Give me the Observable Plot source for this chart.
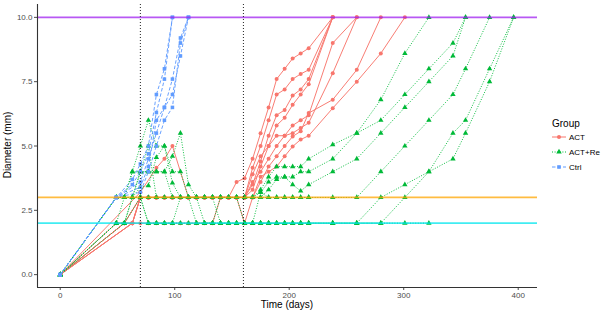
<!DOCTYPE html>
<html><head><meta charset="utf-8">
<script src="https://cdn.jsdelivr.net/npm/d3@7"></script>
<script src="https://cdn.jsdelivr.net/npm/@observablehq/plot@0.6"></script>
<style>body{margin:0;background:#fff;font-family:"Liberation Sans",Arial,sans-serif}</style>
</head><body><div id="chart"></div>
<script>
const groups = ["ACT", "ACT+Re", "Ctrl"];
const groupColors = ["#F8766D", "#00BA38", "#619CFF"];
const groupSymbols = ["circle", "triangle", "square"];
const xTicks = [0, 100, 200, 300, 400];
const yTicks = [0, 2.5, 5, 7.5, 10];
const refLevels = [10, 3, 2];
const refColors = ["#a020f0", "#ffa500", "#00e5ee"];
const phaseDays = [70, 160];

// Ctrl subjects [day, diameter]
const ctrl1 = [[0,0],[49,3],[63,3.7],[70,4.3],[77,5.0],[84,7.0],[91,8.0],[98,10]];
const ctrl2 = [[0,0],[49,3],[63,3.5],[70,4.0],[77,4.7],[84,6.3],[91,7.6],[98,10]];
const ctrl3 = [[0,0],[49,3],[70,3.6],[77,4.5],[84,5.5],[91,6.5],[98,7.6],[105,9.2],[112,10]];
const ctrl4 = [[0,0],[49,3],[70,3.4],[77,4.2],[84,6.0],[91,6.5],[98,7.0],[105,8.5],[112,10]];
const ctrl5 = [[0,0],[49,3],[70,3.2],[77,4.0],[84,5.0],[91,6.0],[98,6.5],[105,9.0],[112,10]];

// ACT subjects
const act1 = [[0,0],[70,3.2],[84,4.15],[91,4.5],[98,5.0],[112,3],[119,3],[126,3],[133,3],[140,3],[147,3],[154,3.6],[161,3.75],[168,4.5],[175,5.5],[182,6.5],[189,7.6],[196,8.0],[203,8.4],[210,8.6],[217,8.8],[238,10]];
const act2 = [[0,0],[56,2],[70,3],[77,3],[84,3],[91,3],[98,3],[105,3],[112,3],[119,3],[126,3],[133,3],[140,3],[147,3],[154,3],[161,3],[168,4.15],[175,5.0],[182,6.0],[189,7.0],[196,7.2],[203,7.6],[210,7.8],[217,7.96],[238,10]];
const act3 = [[0,0],[63,2],[70,3],[77,3],[84,3],[91,3],[98,3],[105,3],[112,3],[119,3],[126,3],[133,3],[140,3],[147,3],[154,3],[161,3],[168,3.5],[175,4.4],[182,5.4],[189,6.2],[196,6.4],[203,6.96],[210,7.2],[217,7.6],[238,10]];
const act4 = [[0,0],[63,2],[70,2],[77,2],[84,2],[91,2],[98,2],[105,2],[112,2],[119,2],[126,2],[133,2],[140,3],[147,3],[154,3],[161,3],[168,3.9],[175,4.6],[182,5.0],[189,5.8],[196,6.1],[203,6.6],[210,7.0],[217,7.4],[238,10]];
const act5 = [[0,0],[56,2],[63,2],[70,3],[77,3],[84,3],[91,3],[98,3],[105,3],[112,3],[119,3],[126,3],[133,3],[140,3],[147,3],[154,3],[161,3],[168,3.3],[175,4.2],[182,5.0],[189,5.4],[196,5.4],[203,5.8],[210,6.0],[217,6.2],[238,9.0],[259,10]];
const act6 = [[0,0],[49,2],[56,2],[63,2],[70,3],[77,3],[84,3],[91,3],[98,3],[105,3],[112,3],[119,3],[126,3],[133,3],[140,3],[147,3],[154,3],[161,3],[168,3.6],[175,4.0],[182,4.5],[189,5.0],[196,5.4],[203,5.5],[210,5.7],[217,5.9],[238,7.83],[259,10]];
const act7 = [[0,0],[63,2],[70,3],[77,3],[84,3],[91,3],[98,3],[105,3],[112,3],[119,3],[126,3],[133,3],[140,3],[147,3],[154,3],[161,3],[168,3],[175,3.6],[182,4.2],[189,4.6],[196,5.0],[203,5.37],[210,5.57],[217,6.28],[238,6.8],[259,7.96],[280,10]];
const act8 = [[0,0],[56,2],[70,3],[77,3],[84,3],[91,3],[98,3],[105,3],[112,3],[119,3],[126,3],[133,3],[140,3],[147,3],[154,3],[161,2],[168,3],[175,3.8],[182,4.0],[189,4.2],[196,4.6],[203,4.98],[210,5.25],[217,5.4],[238,6.47],[259,7.5],[280,8.6],[301,10]];

// ACT+Re subjects
const re1 = [[0,0],[49,3],[56,3],[63,4],[70,4],[77,4],[84,4],[91,4],[98,4.6],[105,5.5],[112,3.5],[119,3],[126,3],[133,3],[140,3],[147,3],[154,3],[161,3],[168,3],[175,3.3],[182,3.8],[189,4.2],[196,4.2],[203,4.2],[210,4.2],[217,4.5],[238,5.05],[259,5.5],[280,6.8],[301,8.6],[322,10]];
const re2 = [[0,0],[49,3],[56,3],[63,4],[70,5],[77,6],[84,5],[91,5],[98,3.56],[105,3],[112,3],[119,3],[126,3],[133,3],[140,3],[147,3],[154,3],[161,3],[168,3],[175,3.2],[182,3.6],[189,3.8],[196,3.8],[203,3.8],[210,4.0],[217,4.0],[238,4.5],[259,5.5],[280,6.0],[301,7.0],[322,8.0],[343,9.0],[354,10]];
const re3 = [[0,0],[49,3],[56,3],[63,3],[70,3.4],[77,3.46],[84,4.56],[91,5.0],[98,4.0],[105,4.0],[112,3],[119,3],[126,3],[133,3],[140,3],[147,3],[154,3],[161,3],[168,3],[175,3],[182,3.3],[189,3.7],[196,3.8],[203,3.5],[210,3.25],[217,3.5],[238,4.0],[259,4.5],[280,5.5],[301,6.5],[322,7.5],[343,8.5],[354,10]];
const re4 = [[0,0],[49,3],[56,3],[63,3],[70,3],[77,3],[84,3],[91,3],[98,3],[105,3],[112,3],[119,3],[126,3],[133,3],[140,3],[147,3],[154,3],[161,3],[168,3],[175,3],[182,3],[189,3],[196,3],[203,3],[210,3],[217,3],[238,3],[259,3],[280,4.0],[301,5.0],[322,6.0],[343,7.0],[354,8.0],[375,10]];
const re5 = [[0,0],[49,2],[56,2],[63,3],[70,4],[77,4],[84,4],[91,4],[98,3],[105,3],[112,3],[119,2],[126,2],[133,2],[140,2],[147,2],[154,2],[161,2],[168,2],[175,2],[182,2],[189,2],[196,2],[203,2],[210,2],[217,2],[238,2],[259,2],[280,3],[301,3.5],[322,4.0],[343,4.5],[354,5.5],[375,7.5],[396,10]];
const re6 = [[0,0],[56,2],[63,3],[70,4],[77,5],[84,3],[91,3],[98,3],[105,3],[112,3],[119,3],[126,3],[133,3],[140,2],[147,2],[154,2],[161,2],[168,2],[175,2],[182,2],[189,2],[196,2],[203,2],[210,2],[217,2],[238,2],[259,2],[280,2],[301,3],[322,4.0],[343,5.5],[354,6.0],[375,8.0],[396,10]];
const re7 = [[0,0],[49,2],[56,2],[70,3],[77,2],[84,2],[91,2],[98,2],[105,2],[112,2],[119,2],[126,2],[133,2],[140,2],[147,2],[154,2],[161,2],[168,2],[175,2],[182,2],[189,2],[196,2],[203,2],[210,2],[217,2],[238,2],[259,2],[280,2],[301,2],[322,2]];
const re8 = [[0,0],[49,2],[56,3],[63,3],[70,3],[77,2],[84,2],[91,2],[98,2],[105,3],[112,3],[119,3],[126,2],[133,2],[140,3],[147,3],[154,3],[161,2],[168,2],[175,3.2],[182,3],[189,3],[196,3],[203,3],[210,3],[217,3]];

const subjects = [
  ["ACT", [act1, act2, act3, act4, act5, act6, act7, act8]],
  ["ACT+Re", [re1, re2, re3, re4, re5, re6, re7, re8]],
  ["Ctrl", [ctrl1, ctrl2, ctrl3, ctrl4, ctrl5]]
];

const rows = [];
subjects.forEach(([g, list]) => list.forEach((s, i) => s.forEach(([t, d]) => rows.push({group: g, id: g + i, t, d}))));
const byGroup = g => rows.filter(r => r.group === g);

const dashes = {"ACT": null, "ACT+Re": "1,1.6", "Ctrl": "3.5,2"};
const fontTick = 8;

const chart = Plot.plot({
  width: 606, height: 316,
  marginLeft: 37, marginRight: 69, marginTop: 4, marginBottom: 29,
  style: {fontFamily: "Liberation Sans, Arial, sans-serif", background: "#fff"},
  x: {domain: [-19.85, 416.85]},
  y: {domain: [-0.5, 10.5]},
  color: {domain: groups, range: groupColors},
  symbol: {domain: groups, range: groupSymbols},
  marks: [
    ...groups.map(g => Plot.line(byGroup(g), {x: "t", y: "d", z: "id", stroke: "group", strokeWidth: 1, strokeDasharray: dashes[g], strokeLinecap: "butt", strokeOpacity: 0.95})),
    ...groups.map(g => Plot.dot(byGroup(g), {x: "t", y: "d", fill: "group", symbol: "group", r: 2, stroke: "none"})),
    Plot.ruleY(refLevels, {y: d => d, stroke: (d, i) => refColors[i], strokeWidth: 1.8, strokeOpacity: 0.75}),
    Plot.ruleX(phaseDays, {x: d => d, stroke: "#222", strokeWidth: 1, strokeDasharray: "1,2", strokeLinecap: "butt"}),
    Plot.axisX({ticks: xTicks, tickSize: 3, tickPadding: 2, fontSize: fontTick, color: "#4d4d4d", label: null}),
    Plot.axisY({ticks: yTicks, tickFormat: d3.format(".1f"), tickSize: 3, tickPadding: 2, fontSize: fontTick, color: "#4d4d4d", label: null}),
    Plot.ruleY([-0.5], {stroke: "#333", strokeWidth: 1.1}),
    Plot.ruleX([-19.85], {stroke: "#333", strokeWidth: 1.1})
  ]
});

const svg = d3.select(chart);
// axis titles
svg.append("text").attr("x", 287).attr("y", 308).attr("text-anchor", "middle")
  .attr("font-size", 10).attr("fill", "#000").text("Time (days)");
svg.append("text").attr("transform", "translate(11,145) rotate(-90)").attr("text-anchor", "middle")
  .attr("font-size", 10).attr("fill", "#000").text("Diameter (mm)");

// legend
const lg = svg.append("g").attr("text-anchor", "start");
lg.append("text").attr("x", 552).attr("y", 127).attr("text-anchor", "start").attr("font-size", 10).attr("fill", "#000").text("Group");
groups.forEach((g, i) => {
  const y = 137 + i * 15;
  lg.append("line").attr("x1", 552).attr("x2", 566).attr("y1", y).attr("y2", y)
    .attr("stroke", groupColors[i]).attr("stroke-width", 1).attr("stroke-dasharray", dashes[g]);
  const sym = d3.symbol().type([d3.symbolCircle, d3.symbolTriangle, d3.symbolSquare][i]).size(13);
  lg.append("path").attr("d", sym()).attr("transform", `translate(559,${y})`).attr("fill", groupColors[i]);
  lg.append("text").attr("x", 569).attr("y", y + 3).attr("text-anchor", "start").attr("font-size", 8).attr("fill", "#000").text(g);
});

document.getElementById("chart").appendChild(chart);
</script>
</body></html>
